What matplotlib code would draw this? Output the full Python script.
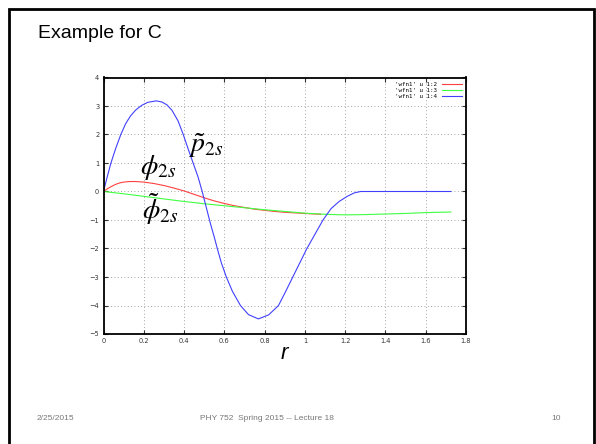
"""
slide: Example for C -- wavefunctions from wfn1
"""
import matplotlib
matplotlib.use('Agg')
import matplotlib.pyplot as plt
from matplotlib.patches import Rectangle

plt.rcParams['mathtext.fontset'] = 'stix'

# 'wfn1' u 1:2  (phi_2s)
r_red = [0.0, 0.02, 0.04, 0.06, 0.08, 0.1, 0.13, 0.16, 0.2, 0.25, 0.3, 0.35, 0.4, 0.45,
         0.5, 0.55, 0.6, 0.65, 0.7, 0.75, 0.8, 0.85, 0.9, 0.95, 1.0, 1.05, 1.08]
y_red = [0.0, 0.1, 0.18, 0.25, 0.3, 0.33, 0.35, 0.35, 0.33, 0.28, 0.21, 0.12, 0.02, -0.1,
         -0.22, -0.33, -0.42, -0.5, -0.56, -0.62, -0.66, -0.7, -0.73, -0.75, -0.77, -0.79,
         -0.8]

# 'wfn1' u 1:3  (phi tilde_2s)
r_green = [0.0, 0.1, 0.2, 0.3, 0.4, 0.5, 0.6, 0.7, 0.8, 0.9, 1.0, 1.1, 1.2, 1.3,
           1.4, 1.5, 1.6, 1.725]
y_green = [0.0, -0.08, -0.17, -0.26, -0.35, -0.43, -0.5, -0.57, -0.64, -0.7, -0.76, -0.8,
           -0.82, -0.81, -0.79, -0.77, -0.74, -0.72]

# 'wfn1' u 1:4  (p tilde_2s)
r_blue = [0.0, 0.018, 0.037, 0.06, 0.086, 0.11, 0.135, 0.16, 0.189, 0.22, 0.263, 0.29,
          0.315, 0.34, 0.37, 0.396, 0.42, 0.445, 0.47, 0.49, 0.51, 0.53, 0.55, 0.565,
          0.585, 0.61, 0.64, 0.68, 0.72, 0.769, 0.82, 0.869, 0.905, 0.94, 0.975, 1.01,
          1.05, 1.09, 1.13, 1.17, 1.21, 1.245, 1.277, 1.5, 1.725]
y_blue = [0.0, 0.5, 1.0, 1.5, 2.0, 2.38, 2.66, 2.86, 3.02, 3.13, 3.18, 3.14,
          3.04, 2.85, 2.48, 2.0, 1.5, 1.0, 0.5, 0.0, -0.55, -1.1, -1.6, -2.0,
          -2.5, -3.0, -3.5, -4.0, -4.32, -4.47, -4.33, -4.0, -3.5, -3.0, -2.5, -2.0,
          -1.5, -1.0, -0.6, -0.35, -0.17, -0.05, 0.0, 0.0, 0.0]

xticks = [0, 0.2, 0.4, 0.6, 0.8, 1, 1.2, 1.4, 1.6, 1.8]
xticklabels = ['0', '0.2', '0.4', '0.6', '0.8', '1', '1.2', '1.4', '1.6', '1.8']
yticks = [-5, -4, -3, -2, -1, 0, 1, 2, 3, 4]

fig = plt.figure(figsize=(5.96, 4.44), dpi=100)
fig.patch.set_facecolor('white')

# slide frame
fig.patches.append(Rectangle((8.5 / 596, -0.05), (594 - 8.5) / 596, 1.05 - 9.5 / 444,
                             transform=fig.transFigure, fill=False, ec='black', lw=2))

ax = fig.add_axes([103.5 / 596, 1 - 334 / 444, (466 - 103.5) / 596, (334 - 77.5) / 444])
ax.plot(r_red, y_red, color='#ff4040', lw=0.8, label="'wfn1' u 1:2")
ax.plot(r_green, y_green, color='#40ff40', lw=0.8, label="'wfn1' u 1:3")
ax.plot(r_blue, y_blue, color='#4040ff', lw=0.8, label="'wfn1' u 1:4")

ax.set_xlim(0, 1.8)
ax.set_ylim(-5, 4)
ax.set_xticks(xticks)
ax.set_xticklabels(xticklabels)
ax.set_yticks(yticks)
ax.tick_params(direction='in', length=3, width=0.8, labelsize=4.8, colors='#333333',
               top=True, right=True, pad=3)
for s in ax.spines.values():
    s.set_linewidth(1.3)
ax.grid(True, color='#888888', linestyle=(0, (1, 3)), lw=0.6)

leg = ax.legend(loc='upper right', frameon=False, handlelength=3.5, markerfirst=False,
                labelspacing=0.15, borderaxespad=0.3, handletextpad=0.8,
                prop={'family': 'DejaVu Sans Mono', 'size': 4.2})

ax.text(0.42, 1.6, r'$\tilde{p}_{2s}$', fontsize=20, ha='left', va='center')
ax.text(0.18, 0.83, r'$\phi_{2s}$', fontsize=20, ha='left', va='center')
ax.text(0.19, -0.64, r'$\tilde{\phi}_{2s}$', fontsize=20, ha='left', va='center')
ax.set_xlabel('r', fontsize=16, style='italic', family='Liberation Sans', labelpad=-1)

fig.text(38 / 596, 1 - 33 / 444, 'Example for C', fontsize=14, family='Liberation Sans',
         ha='left', va='center')
fig.text(37 / 596, 1 - 418 / 444, '2/25/2015', fontsize=6, color='#777777',
         family='Liberation Sans', ha='left', va='center')
fig.text(267 / 596, 1 - 418 / 444, 'PHY 752  Spring 2015 -- Lecture 18', fontsize=6,
         color='#777777', family='Liberation Sans', ha='center', va='center')
fig.text(561 / 596, 1 - 418 / 444, '10', fontsize=6, color='#777777',
         family='Liberation Sans', ha='right', va='center')

fig.savefig('out.png', dpi=100)
